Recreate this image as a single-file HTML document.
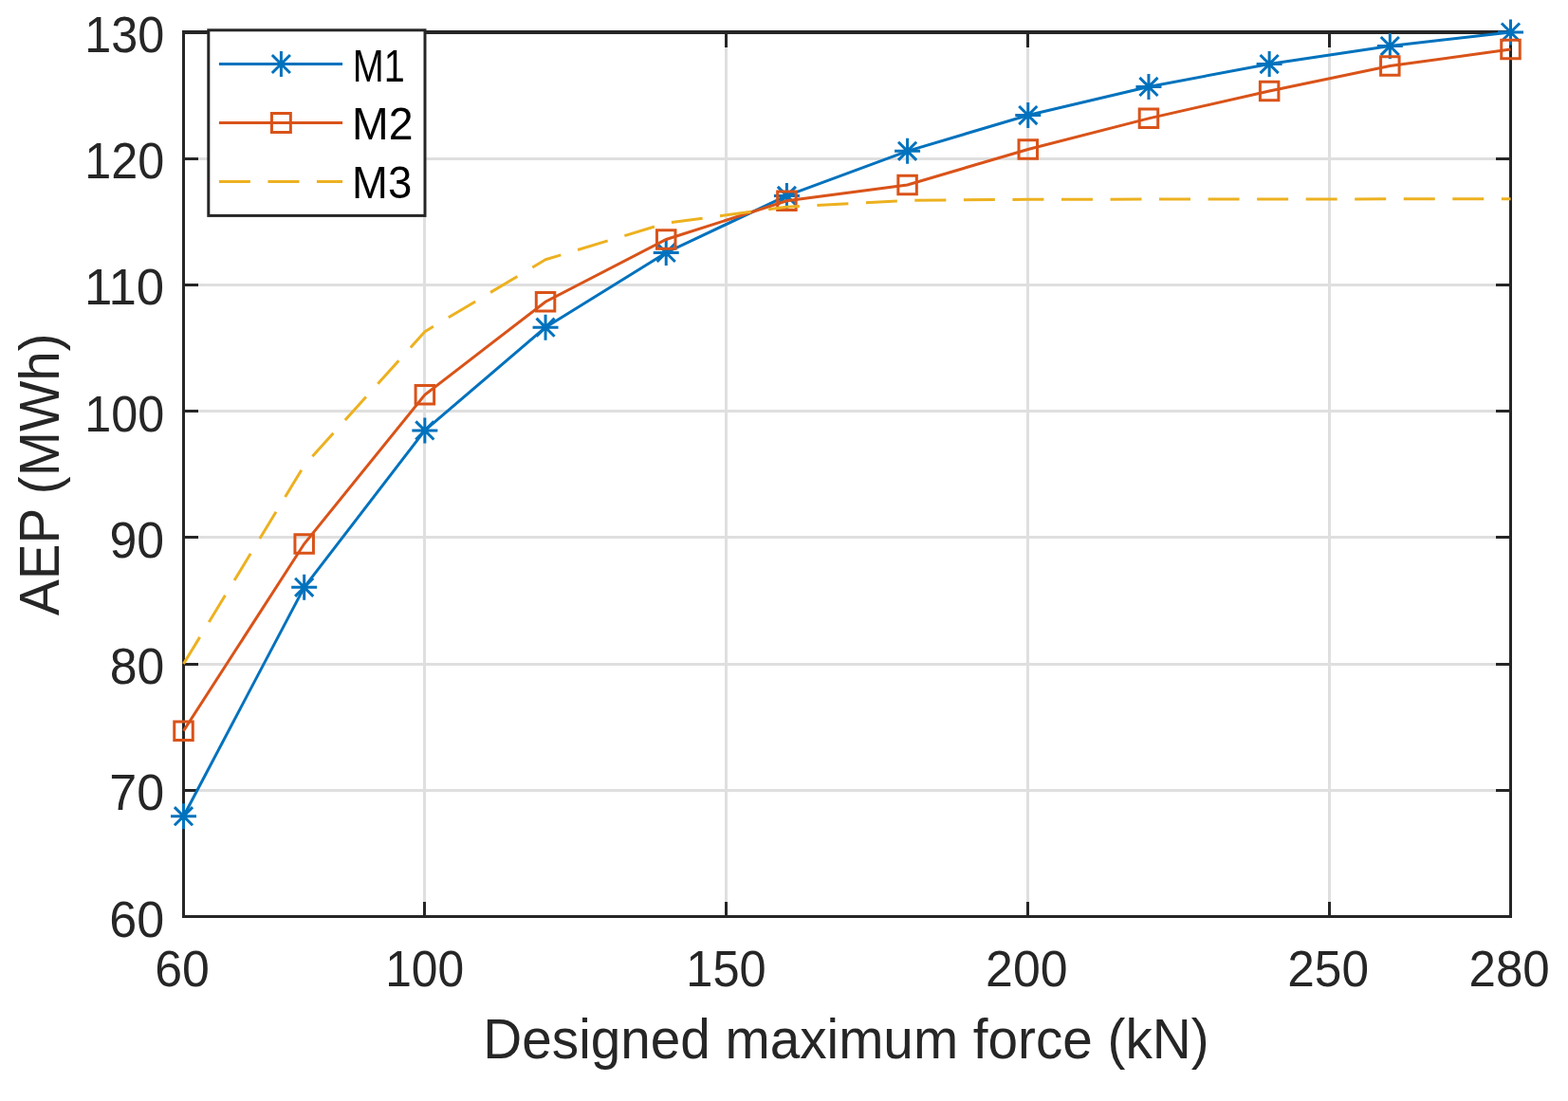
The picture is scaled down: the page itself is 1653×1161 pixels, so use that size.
<!DOCTYPE html>
<html><head><meta charset="utf-8"><title>AEP vs designed maximum force</title><style>html,body{margin:0;padding:0;background:#fff;overflow:hidden;}svg{display:block;}</style></head><body>
<svg width="1653" height="1161" viewBox="0 0 1653 1161" font-family="'Liberation Sans', Arial, Helvetica, sans-serif">
<rect x="0" y="0" width="1653" height="1161" fill="#fff"/>
<path d="M447.50 34.00V966.50M765.50 34.00V966.50M1083.50 34.00V966.50M1401.50 34.00V966.50M193.50 833.50H1592.50M193.50 700.50H1592.50M193.50 566.50H1592.50M193.50 433.50H1592.50M193.50 300.50H1592.50M193.50 167.50H1592.50" stroke="#DFDFDF" stroke-width="3.0" fill="none" shape-rendering="crispEdges"/>
<path d="M192.00 966.50H1594.00M193.50 966.50V34.00M1592.50 966.50V34.00M447.50 966.50v-15.5M447.50 34.00v15.5M765.50 966.50v-15.5M765.50 34.00v15.5M1083.50 966.50v-15.5M1083.50 34.00v15.5M1401.50 966.50v-15.5M1401.50 34.00v15.5M193.50 833.50h15.5M1592.50 833.50h-15.5M193.50 700.50h15.5M1592.50 700.50h-15.5M193.50 566.50h15.5M1592.50 566.50h-15.5M193.50 433.50h15.5M1592.50 433.50h-15.5M193.50 300.50h15.5M1592.50 300.50h-15.5M193.50 167.50h15.5M1592.50 167.50h-15.5" stroke="#262626" stroke-width="3.0" fill="none" shape-rendering="crispEdges"/>
<path d="M192.00 34.00H1594.00" stroke="#262626" stroke-width="4" fill="none" shape-rendering="crispEdges"/>
<g>
<text x="115.34" y="987.50" font-size="53.6" fill="#262626" textLength="57.87" lengthAdjust="spacingAndGlyphs">60</text>
<text x="115.33" y="854.29" font-size="53.6" fill="#262626" textLength="57.88" lengthAdjust="spacingAndGlyphs">70</text>
<text x="115.70" y="721.07" font-size="53.6" fill="#262626" textLength="57.50" lengthAdjust="spacingAndGlyphs">80</text>
<text x="115.54" y="587.86" font-size="53.6" fill="#262626" textLength="57.67" lengthAdjust="spacingAndGlyphs">90</text>
<text x="89.15" y="454.64" font-size="53.6" fill="#262626" textLength="84.03" lengthAdjust="spacingAndGlyphs">100</text>
<text x="88.97" y="321.43" font-size="53.6" fill="#262626" textLength="84.10" lengthAdjust="spacingAndGlyphs">110</text>
<text x="89.15" y="188.21" font-size="53.6" fill="#262626" textLength="84.03" lengthAdjust="spacingAndGlyphs">120</text>
<text x="89.15" y="55.00" font-size="53.6" fill="#262626" textLength="84.03" lengthAdjust="spacingAndGlyphs">130</text>
<text x="163.25" y="1040.00" font-size="53.6" fill="#262626" textLength="57.66" lengthAdjust="spacingAndGlyphs">60</text>
<text x="406.20" y="1040.00" font-size="53.6" fill="#262626" textLength="82.96" lengthAdjust="spacingAndGlyphs">100</text>
<text x="723.34" y="1040.00" font-size="53.6" fill="#262626" textLength="84.35" lengthAdjust="spacingAndGlyphs">150</text>
<text x="1039.08" y="1040.00" font-size="53.6" fill="#262626" textLength="86.46" lengthAdjust="spacingAndGlyphs">200</text>
<text x="1357.31" y="1040.00" font-size="53.6" fill="#262626" textLength="85.72" lengthAdjust="spacingAndGlyphs">250</text>
<text x="1548.52" y="1040.00" font-size="53.6" fill="#262626" textLength="85.19" lengthAdjust="spacingAndGlyphs">280</text>
</g>
<text x="509.36" y="1115.80" font-size="59.3" fill="#262626" textLength="765.20" lengthAdjust="spacingAndGlyphs">Designed maximum force (kN)</text>
<text transform="translate(61.9 649.11) rotate(-90)" x="0" y="0" font-size="59.3" fill="#262626" textLength="297.76" lengthAdjust="spacingAndGlyphs">AEP (MWh)</text>
<polyline points="193.50,860.73 320.68,619.34 447.86,453.89 575.05,345.19 702.23,266.46 829.41,206.38 956.59,159.35 1083.77,121.52 1210.95,91.42 1338.14,67.57 1465.32,48.52 1592.50,34.00" fill="none" stroke="#0072BD" stroke-width="3.0" stroke-linejoin="round"/>
<path d="M180.00 860.73h27.00M193.50 847.23v27.00M183.95 851.18l19.09 19.09M183.95 870.27l19.09 -19.09M307.18 619.34h27.00M320.68 605.84v27.00M311.14 609.80l19.09 19.09M311.14 628.89l19.09 -19.09M434.36 453.89h27.00M447.86 440.39v27.00M438.32 444.35l19.09 19.09M438.32 463.44l19.09 -19.09M561.55 345.19h27.00M575.05 331.69v27.00M565.50 335.64l19.09 19.09M565.50 354.73l19.09 -19.09M688.73 266.46h27.00M702.23 252.96v27.00M692.68 256.91l19.09 19.09M692.68 276.00l19.09 -19.09M815.91 206.38h27.00M829.41 192.88v27.00M819.86 196.83l19.09 19.09M819.86 215.93l19.09 -19.09M943.09 159.35h27.00M956.59 145.85v27.00M947.04 149.81l19.09 19.09M947.04 168.90l19.09 -19.09M1070.27 121.52h27.00M1083.77 108.02v27.00M1074.23 111.98l19.09 19.09M1074.23 131.07l19.09 -19.09M1197.45 91.42h27.00M1210.95 77.92v27.00M1201.41 81.87l19.09 19.09M1201.41 100.96l19.09 -19.09M1324.64 67.57h27.00M1338.14 54.07v27.00M1328.59 58.02l19.09 19.09M1328.59 77.12l19.09 -19.09M1451.82 48.52h27.00M1465.32 35.02v27.00M1455.77 38.97l19.09 19.09M1455.77 58.07l19.09 -19.09M1579.00 34.00h27.00M1592.50 20.50v27.00M1582.95 24.45l19.09 19.09M1582.95 43.55l19.09 -19.09" fill="none" stroke="#0072BD" stroke-width="3.0"/>
<polyline points="193.50,770.67 320.68,573.52 447.86,416.33 575.05,318.28 702.23,252.47 829.41,211.84 956.59,194.92 1083.77,157.49 1210.95,124.85 1338.14,95.94 1465.32,69.57 1592.50,51.98" fill="none" stroke="#D95319" stroke-width="3.0" stroke-linejoin="miter"/>
<path d="M183.75 760.92h19.50v19.50h-19.50ZM310.93 563.77h19.50v19.50h-19.50ZM438.11 406.58h19.50v19.50h-19.50ZM565.30 308.53h19.50v19.50h-19.50ZM692.48 242.72h19.50v19.50h-19.50ZM819.66 202.09h19.50v19.50h-19.50ZM946.84 185.17h19.50v19.50h-19.50ZM1074.02 147.74h19.50v19.50h-19.50ZM1201.20 115.10h19.50v19.50h-19.50ZM1328.39 86.19h19.50v19.50h-19.50ZM1455.57 59.82h19.50v19.50h-19.50ZM1582.75 42.23h19.50v19.50h-19.50Z" fill="none" stroke="#D95319" stroke-width="3.0" stroke-linejoin="miter"/>
<polyline points="193.50,700.07 320.68,490.93 447.86,349.72 575.05,273.79 702.23,235.29 829.41,218.24 956.59,211.31 1083.77,210.24 1210.95,210.11 1338.14,209.98 1465.32,209.84 1592.50,209.84" fill="none" stroke="#EDB120" stroke-width="3.0" stroke-dasharray="33 18.54" stroke-linejoin="round"/>
<rect x="219.8" y="31.8" width="228.20" height="195.60" fill="#fff" stroke="#262626" stroke-width="3.0"/>
<path d="M230.9 67.5H361.1" stroke="#0072BD" stroke-width="3.0"/>
<path d="M282.90 67.50h27.00M296.40 54.00v27.00M286.85 57.95l19.09 19.09M286.85 77.05l19.09 -19.09" stroke="#0072BD" stroke-width="3.0" fill="none"/>
<path d="M230.9 129.4H361.1" stroke="#D95319" stroke-width="3.0"/>
<path d="M286.45 119.55h19.90v19.90h-19.90Z" stroke="#D95319" stroke-width="3.0" fill="none"/>
<path d="M230.9 191.4H361.1" stroke="#EDB120" stroke-width="3.0" stroke-dasharray="33 18.54"/>
<text x="371.83" y="85.70" font-size="48.5" fill="#000" textLength="55.00" lengthAdjust="spacingAndGlyphs">M1</text>
<text x="370.97" y="146.90" font-size="48.5" fill="#000" textLength="64.50" lengthAdjust="spacingAndGlyphs">M2</text>
<text x="371.05" y="208.70" font-size="48.5" fill="#000" textLength="63.09" lengthAdjust="spacingAndGlyphs">M3</text>
</svg>
</body></html>
